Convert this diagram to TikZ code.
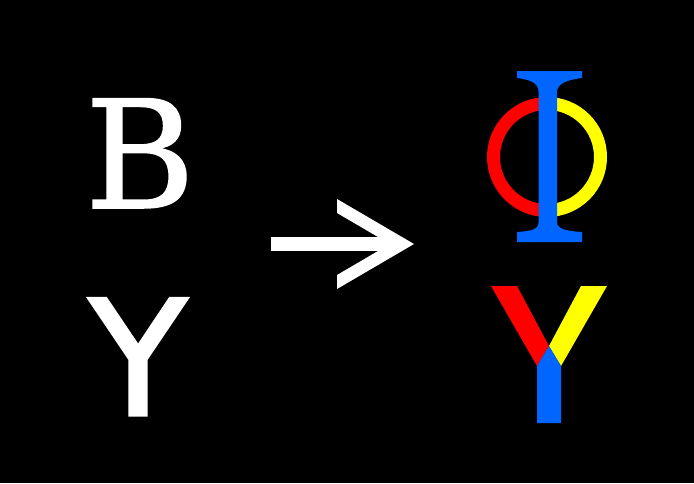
\documentclass[tikz,border=0pt]{standalone}
\usepackage{fontspec}
\newfontfamily\bserif[FakeBold=1]{DejaVu Serif}
\newfontfamily\ysans[FakeBold=2]{DejaVu Sans}
\usetikzlibrary{
	calc
}
\definecolor{phired}{RGB}{255,0,0}
\definecolor{phiyellow}{RGB}{255,255,0}
\definecolor{phiblue}{RGB}{0,102,255}
\tikzset{
	glyph/.style={
		white,
		inner sep=0pt,
		anchor=base
	},
	ring half/.style={
		line width=13pt
	}
}

\begin{document}
\begin{tikzpicture}[ %%%%%%%% PIXEL GRID
		x=1pt,
		y=-1pt
		]
		\fill[black] (0,0) rectangle (694,483);
		\useasboundingbox (0,0) rectangle (694,483);
		\node[glyph,font=\bserif\fontsize{150}{150}\selectfont] (B) at (140,208) {B};
		\node[glyph,font=\ysans\fontsize{160}{160}\selectfont] (Y) at (138,415) {Y};
		%%%%%%%% ARROW
		\coordinate (arrow tail) at (271,244);
		\coordinate (arrow tip) at (414,244);
		\draw[white,line width=14pt] (arrow tail) -- ($(arrow tip)+(-22,0)$);
		\fill[white] (arrow tip) -- ++(-77,-45) -- ++(0,14) -- ++(53,31)
			-- ++(-53,31) -- ++(0,14) -- cycle;
		%%%%%%%% PHI
		\def\rphi{53.5}
		\coordinate (phi centre) at (547,157);
		\draw[phired,ring half] (phi centre) ++(0,-\rphi)
			arc[start angle=90,end angle=270,radius=\rphi pt];
		\draw[phiyellow,ring half] (phi centre) ++(0,-\rphi)
			arc[start angle=90,end angle=-90,radius=\rphi pt];
		\fill[phiblue] (517,71) -- (582,71) -- (582,78)
			.. controls (566,80) and (557,84) .. (557,92) -- (557,222)
			.. controls (557,229) and (566,231) .. (582,232) -- (582,242)
			-- (517,242) -- (517,232)
			.. controls (533,231) and (538.5,229) .. (538.5,222) -- (538.5,92)
			.. controls (538.5,84) and (533,80) .. (517,78) -- cycle;
		%%%%%%%% Y DE COLORS
		\coordinate (fork) at (549,346);
		\fill[phired] (491,286) -- (517,286) -- (fork) -- (537,366) -- cycle;
		\fill[phiyellow] (581,286) -- (607,286) -- (561,366) -- (fork) -- cycle;
		\fill[phiblue] (fork) -- (561,366) -- (561,423) -- (537,423) -- (537,366) -- cycle;
	\end{tikzpicture}
\end{document}
